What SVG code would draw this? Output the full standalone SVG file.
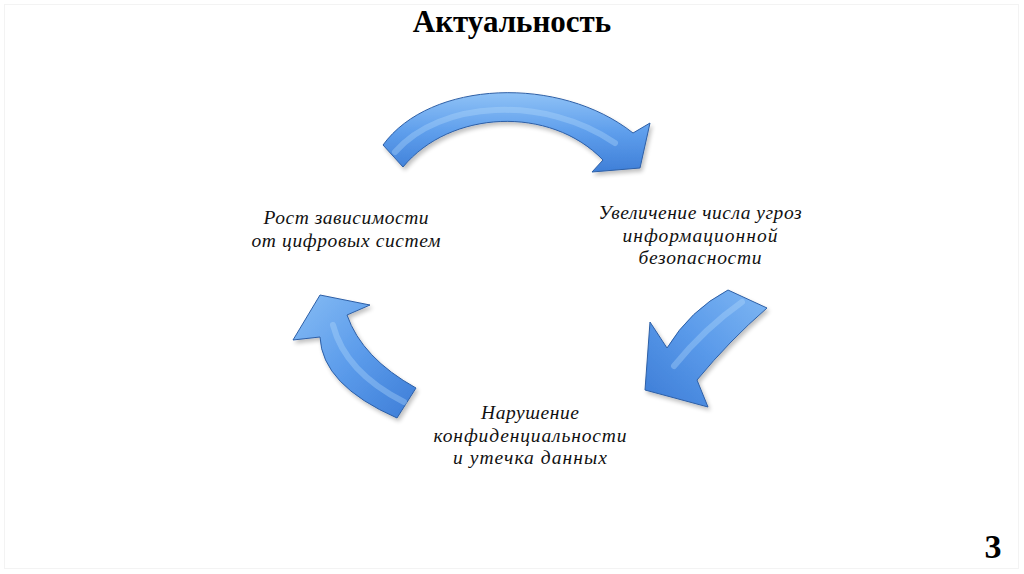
<svg xmlns="http://www.w3.org/2000/svg" width="1024" height="574" viewBox="0 0 1024 574">
<defs>
<linearGradient id="g1" x1="0" y1="0" x2="0" y2="1">
<stop offset="0" stop-color="#8fc2f6"/>
<stop offset="0.5" stop-color="#5e9eec"/>
<stop offset="1" stop-color="#3f7fd8"/>
</linearGradient>
<linearGradient id="g2" x1="1" y1="0" x2="0" y2="1">
<stop offset="0" stop-color="#7fb7f3"/>
<stop offset="0.5" stop-color="#5a9aea"/>
<stop offset="1" stop-color="#3c7cd6"/>
</linearGradient>
<linearGradient id="g3" x1="0" y1="0" x2="1" y2="1">
<stop offset="0" stop-color="#86bcf4"/>
<stop offset="0.5" stop-color="#5c9ceb"/>
<stop offset="1" stop-color="#3d7dd7"/>
</linearGradient>
<filter id="sh" x="-10%" y="-10%" width="130%" height="130%">
<feGaussianBlur in="SourceAlpha" stdDeviation="2"/>
<feOffset dx="2" dy="3" result="b"/>
<feComponentTransfer><feFuncA type="linear" slope="0.25"/></feComponentTransfer>
<feMerge><feMergeNode/><feMergeNode in="SourceGraphic"/></feMerge>
</filter>
</defs>
<style>
.arr{stroke:#2d5fa6;stroke-width:1;stroke-linejoin:round;filter:url(#sh)}
.hl{fill:none;stroke:#b8dcfb;stroke-width:6;stroke-linecap:round;opacity:0.35}
.lbl{font-family:"Liberation Serif","Times New Roman","DejaVu Serif","Noto Serif",serif;font-style:italic;font-size:19.5px;fill:#111;text-anchor:middle}
.title{font-family:"Liberation Serif","Times New Roman","DejaVu Serif","Noto Serif",serif;font-weight:bold;font-size:31px;fill:#000;text-anchor:middle}
</style>
<rect width="1024" height="574" fill="#ffffff"/>
<rect x="4.5" y="4.5" width="1014" height="564" fill="none" stroke="#f3f3f3" stroke-width="1"/>
<text class="title" x="512" y="32">Актуальность</text>
<g id="connectors">
<g id="arrow-top">
<path class="arr" fill="url(#g1)" d="M383,145 C430,80 560,75 633,133 L650,123 L640,168 L592,172 L603,160 C550,105 450,110 403,167 Z"/>
<path class="hl" d="M395,152 C440,100 545,95 615,143"/>
</g>
<g id="arrow-right">
<path class="arr" fill="url(#g2)" d="M728,290 L767,308 Q730,340 697,380 L708,407 L645,390 L650,322 L667,348 Q690,310 728,290 Z"/>
<path class="hl" d="M742,302 Q705,328 674,366"/>
</g>
<g id="arrow-left">
<path class="arr" fill="url(#g3)" d="M397,418 L416,388 Q362,358 347,315 L370,305 L320,295 L293,340 L320,337 Q322,385 397,418 Z"/>
<path class="hl" d="M404,402 Q345,372 333,325"/>
</g>
</g>
<g id="node-left">
<text class="lbl" x="346" y="224" textLength="165">Рост зависимости</text>
<text class="lbl" x="346" y="247" textLength="189">от цифровых систем</text>
</g>
<g id="node-right">
<text class="lbl" x="700" y="219" textLength="203">Увеличение числа угроз</text>
<text class="lbl" x="700" y="242" textLength="155">информационной</text>
<text class="lbl" x="700" y="264" textLength="123">безопасности</text>
</g>
<g id="node-bottom">
<text class="lbl" x="530" y="419" textLength="98">Нарушение</text>
<text class="lbl" x="530" y="442" textLength="193">конфиденциальности</text>
<text class="lbl" x="530" y="464" textLength="154">и утечка данных</text>
</g>
<text x="993" y="558" font-family="'Liberation Serif','Times New Roman','DejaVu Serif',serif" font-weight="bold" font-size="34" text-anchor="middle" fill="#000">3</text>
</svg>
